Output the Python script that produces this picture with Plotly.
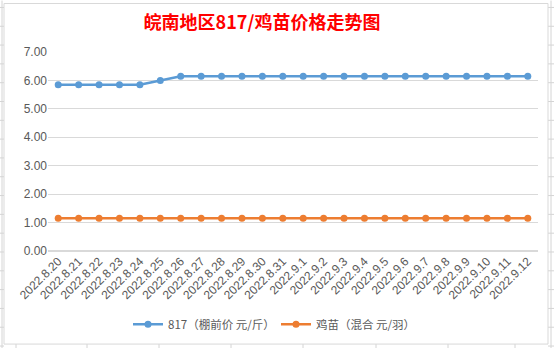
import plotly.graph_objects as go

dates = ["2022.8.20", "2022.8.21", "2022.8.22", "2022.8.23", "2022.8.24", "2022.8.25",
         "2022.8.26", "2022.8.27", "2022.8.28", "2022.8.29", "2022.8.30", "2022.8.31",
         "2022.9.1", "2022.9.2", "2022.9.3", "2022.9.4", "2022.9.5", "2022.9.6",
         "2022.9.7", "2022.9.8", "2022.9.9", "2022.9.10", "2022.9.11", "2022.9.12"]
price_817 = [5.85, 5.85, 5.85, 5.85, 5.85, 6.0,
             6.15, 6.15, 6.15, 6.15, 6.15, 6.15,
             6.15, 6.15, 6.15, 6.15, 6.15, 6.15,
             6.15, 6.15, 6.15, 6.15, 6.15, 6.15]
price_chick = [1.15] * 24
name_817 = "817（棚前价 元/斤）"
name_chick = "鸡苗（混合 元/羽）"
title = "皖南地区817/鸡苗价格走势图"

W, H = 554, 351
L, R, T, B = 48, 16, 52, 98
pw, ph = W - L - R, H - T - B

def px(x):
    return (x - L) / pw

def py(y):
    return 1 - (y - T) / ph

FONT = "Liberation Sans, Noto Sans CJK SC, sans-serif"
GRID = "#D9D9D9"
SHEET = "#D4D4D4"

fig = go.Figure()
fig.add_trace(go.Scatter(x=dates, y=price_817, name=name_817, mode="lines+markers",
                         line=dict(color="#5B9BD5", width=2.5),
                         marker=dict(color="#5B9BD5", size=7), legend="legend"))
fig.add_trace(go.Scatter(x=dates, y=price_chick, name=name_chick, mode="lines+markers",
                         line=dict(color="#ED7D31", width=2.5),
                         marker=dict(color="#ED7D31", size=7), legend="legend2"))

shapes = []
# spreadsheet grid behind the chart
for yy in range(7, H, 19):
    shapes.append(dict(type="line", xref="paper", yref="paper", x0=px(0), x1=px(4),
                       y0=py(yy), y1=py(yy), line=dict(color=SHEET, width=1), layer="below"))
    shapes.append(dict(type="line", xref="paper", yref="paper", x0=px(548), x1=px(554),
                       y0=py(yy), y1=py(yy), line=dict(color=SHEET, width=1), layer="below"))
for xx in [16, 87, 159, 231, 303, 376, 448, 515]:
    shapes.append(dict(type="line", xref="paper", yref="paper", x0=px(xx), x1=px(xx),
                       y0=py(347), y1=py(351), line=dict(color=SHEET, width=1), layer="below"))
shapes.append(dict(type="line", xref="paper", yref="paper", x0=px(2), x1=px(2),
                   y0=py(0), y1=py(351), line=dict(color=SHEET, width=1), layer="below"))
shapes.append(dict(type="line", xref="paper", yref="paper", x0=px(551), x1=px(551),
                   y0=py(0), y1=py(351), line=dict(color=SHEET, width=1), layer="below"))
# chart area border
shapes.append(dict(type="rect", xref="paper", yref="paper", x0=px(4), x1=px(548),
                   y0=py(347), y1=py(3), line=dict(color="#D9D9D9", width=1),
                   fillcolor="white", layer="below"))

LEGFONT = dict(family="Noto Sans CJK SC, sans-serif", size=11.5, color="#595959")

fig.update_layout(
    width=W, height=H,
    margin=dict(l=L, r=R, t=T, b=B),
    paper_bgcolor="white", plot_bgcolor="rgba(0,0,0,0)",
    font=dict(family=FONT, size=12, color="#595959"),
    title=dict(text="<b>" + title + "</b>", x=px(262), xanchor="center", y=1 - 23 / H,
               yanchor="middle", xref="paper",
               font=dict(family="Noto Sans CJK SC, sans-serif", size=18, color="#FF0000")),
    showlegend=True,
    legend=dict(orientation="h", x=px(128), xanchor="left", y=py(327), yanchor="middle",
                font=LEGFONT, bgcolor="rgba(0,0,0,0)", itemwidth=30),
    legend2=dict(orientation="h", x=px(276), xanchor="left", y=py(327), yanchor="middle",
                 font=LEGFONT, bgcolor="rgba(0,0,0,0)", itemwidth=30),
    shapes=shapes,
    xaxis=dict(type="category", range=[-0.5, 23.5], tickangle=-45, showgrid=False,
               showline=False, ticks="", tickfont=dict(size=12, color="#595959"),
               fixedrange=True),
    yaxis=dict(range=[0, 7], dtick=1, tickformat=".2f", showgrid=True, gridcolor=GRID,
               gridwidth=1, zeroline=True, zerolinecolor=GRID, showline=False, ticks="",
               tickfont=dict(size=12, color="#595959")),
)

fig.write_html("out.html")
